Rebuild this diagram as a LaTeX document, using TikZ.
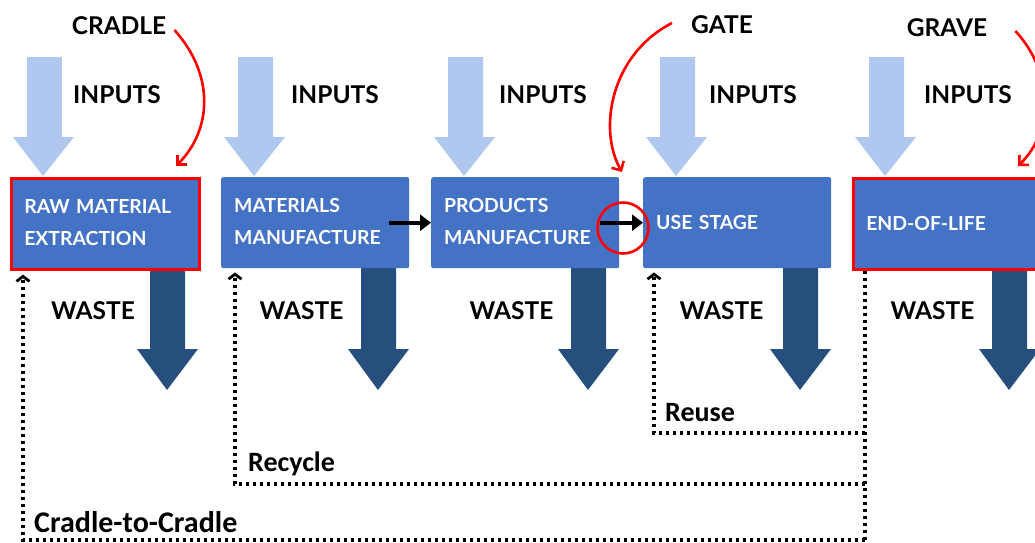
\documentclass[tikz,border=0pt]{standalone}
\usepackage{fontspec}
\setmainfont{Lato}
\newfontfamily\carl{Carlito}
\usetikzlibrary{arrows.meta}
\definecolor{boxblue}{HTML}{4472C4}
\definecolor{inblue}{HTML}{B0C8F0}
\definecolor{wasteblue}{HTML}{264F7E}
\definecolor{redc}{HTML}{FF0000}
\begin{document}
\begin{tikzpicture}[x=1pt,y=-1pt,
  stage/.style={fill=boxblue, rounded corners=2pt, anchor=north west,
    minimum height=91pt, text width=162pt, inner xsep=13pt, inner ysep=0pt,
    align=left, text=white, font=\fontsize{19.4}{32}\selectfont\bfseries},
  redframe/.style={draw=redc, line width=2.6pt, rounded corners=0pt},
  lbl/.style={font=\fontsize{24.5}{26}\selectfont\bfseries, inner sep=0pt},
  loopl/.style={font=\carl\fontsize{28}{30}\selectfont\bfseries, inner sep=0pt, anchor=west},
  inarrow/.style={fill=inblue},
  warrow/.style={fill=wasteblue},
  flow/.style={line width=4pt, -{Triangle[length=11pt,width=16pt]}},
  redarrow/.style={draw=redc, line width=2.6pt, -{Straight Barb[length=7pt,width=14pt,line width=2.6pt]}},
  dotline/.style={line width=3.6pt, dash pattern=on 3.4pt off 3.6pt},
  backtip/.style={-{Straight Barb[length=5pt,width=13pt,line width=2.8pt]}}
]
\useasboundingbox (0,0) rectangle (1035,542);
\clip (0,0) rectangle (1035,542);
\fill[white] (0,0) rectangle (1035,542);

% input and waste arrows
\foreach \x in {10,221,431,643,852}{
  \fill[inarrow] (\x+17,57) -- (\x+52,57) -- (\x+52,137) -- (\x+64,137) -- (\x+33,176) -- (\x+3,137) -- (\x+17,137) -- cycle;
  \fill[warrow] (\x+140,266) -- (\x+175,266) -- (\x+175,349) -- (\x+188,349) -- (\x+157,390) -- (\x+127,349) -- (\x+140,349) -- cycle;
}

% stages
\node[stage, redframe] (b1) at (10,177) {RAW MATERIAL\\EXTRACTION\vspace*{3pt}};
\node[stage] (b2) at (221,177) {MATERIALS\\MANUFACTURE\vspace*{3pt}};
\node[stage] (b3) at (431,177) {PRODUCTS\\MANUFACTURE\vspace*{3pt}};
\node[stage] (b4) at (643,177) {USE STAGE};
\node[stage, redframe] (b5) at (852,177) {END-OF-LIFE};

% inputs / waste labels
\node[lbl] (in1) at (117,95) {INPUTS};
\node[lbl] (in2) at (335,95) {INPUTS};
\node[lbl] (in3) at (543,95) {INPUTS};
\node[lbl] (in4) at (753,95) {INPUTS};
\node[lbl] (in5) at (968,95) {INPUTS};
\node[lbl] (w1) at (93,311) {WASTE};
\node[lbl] (w2) at (301.5,311) {WASTE};
\node[lbl] (w3) at (511.5,311) {WASTE};
\node[lbl] (w4) at (721.5,311) {WASTE};
\node[lbl] (w5) at (932.5,311) {WASTE};

% top labels
\node[lbl] (cradle) at (119,26) {CRADLE};
\node[lbl] (gate) at (722,25) {GATE};
\node[lbl] (grave) at (947,28) {GRAVE};

% flows between stages
\draw[flow] ([xshift=-20pt]b2.east) -- (b3.west);
\draw[flow] ([xshift=-19pt]b3.east) -- (b4.west);
\node[draw=redc, line width=2.6pt, circle, minimum size=51pt, inner sep=0pt] (gc) at (623,228) {};

% red pointer arrows
\draw[redarrow] (cradle.east) ++(8,4) .. controls (215,75) and (212,130) .. (176,166);
\draw[redarrow] (gate.west) ++(-19,-2) .. controls (610,55) and (598,130) .. (622,172);
\draw[redarrow] (grave.east) ++(28,3) .. controls (1052,70) and (1055,130) .. (1018,166);

% loops
\coordinate (eol) at ([xshift=13pt]b5.south west);
\coordinate (reuseC) at (eol |- 0,433);
\coordinate (recycleC) at (eol |- 0,484);
\coordinate (c2cC) at (eol |- 0,540);
\draw[dotline] (eol) -- (c2cC);
\draw[dotline, backtip] (reuseC) -| ([xshift=11pt,yshift=-4pt]b4.south west);
\draw[dotline, backtip] (recycleC) -| ([xshift=14pt,yshift=-4pt]b2.south west);
\draw[dotline, backtip] (c2cC) -| ([xshift=13pt,yshift=-4pt]b1.south west);

\node[loopl] (reuse) at (665,413) {Reuse};
\node[loopl] (recycle) at (248,464) {Recycle};
\node[loopl, font=\carl\fontsize{30}{32}\selectfont\bfseries] (c2c) at (34,522) {Cradle-to-Cradle};
\end{tikzpicture}
\end{document}
